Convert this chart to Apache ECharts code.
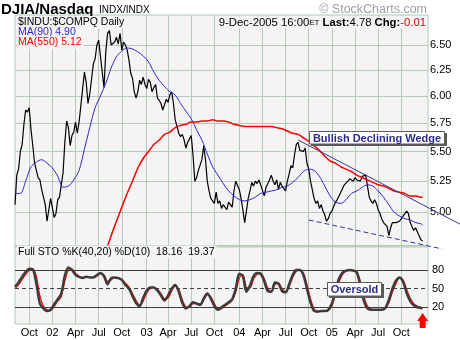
<!DOCTYPE html>
<html><head><meta charset="utf-8">
<script src="https://cdn.jsdelivr.net/npm/echarts@6/dist/echarts.min.js"></script>
<style>html,body{margin:0;padding:0;background:#fff}#c{width:460px;height:340px}</style>
</head><body><div id="c"></div>
<script>
// ---- data (weekly, week index 0 = Mon 2001-08-06) ----
const firstMonday = '2001-08-06';
const weekCount = 233;
const ratio = [
5.06,5.30,5.35,5.50,5.56,5.74,5.87,5.85,5.89,5.69,
5.55,5.40,5.39,5.28,5.26,5.18,5.12,5.06,4.93,5.02,
5.11,5.12,4.96,4.99,5.10,5.12,5.22,5.32,5.58,5.77,
5.71,5.55,5.64,5.67,5.76,5.66,5.76,5.91,6.07,6.23,
6.13,5.93,6.02,6.16,6.31,6.36,6.50,6.55,6.53,6.23,
6.08,6.43,6.62,6.65,6.50,6.50,6.53,6.58,6.51,6.62,
6.45,6.53,6.50,6.45,6.35,6.22,6.17,6.04,5.98,6.04,
6.15,6.11,6.18,6.11,6.07,6.16,6.13,6.04,6.08,6.11,
5.98,5.96,5.93,5.87,5.87,5.97,5.94,6.01,6.04,5.93,
5.78,5.72,5.66,5.63,5.65,5.60,5.53,5.58,5.61,5.64,
5.47,5.25,5.28,5.34,5.35,5.43,5.55,5.43,5.25,5.17,
5.11,5.10,5.07,5.16,5.07,5.09,5.03,5.06,5.07,5.02,
5.08,5.06,5.04,5.17,5.25,5.25,5.18,5.11,5.02,4.92,
5.01,5.11,5.17,5.24,5.21,5.25,5.23,5.26,5.22,5.21,
5.13,5.20,5.21,5.26,5.30,5.25,5.22,5.26,5.18,5.24,
5.21,5.20,5.17,5.25,5.31,5.38,5.36,5.47,5.56,5.58,
5.51,5.51,5.50,5.53,5.40,5.35,5.25,5.18,5.11,5.07,
5.09,5.03,5.06,5.01,4.98,4.93,4.95,4.99,5.01,5.01,
5.08,5.10,5.11,5.16,5.19,5.22,5.23,5.25,5.27,5.26,
5.25,5.28,5.26,5.25,5.25,5.29,5.28,5.30,5.21,5.12,
5.09,5.07,5.10,5.07,5.02,4.99,4.95,4.92,4.92,4.89,
4.82,4.88,4.92,4.92,4.92,4.92,4.93,4.95,4.94,4.99,
5.01,4.99,4.92,4.92,4.86,4.88,4.85,4.85,4.79,4.78];
// MA(90): one reading every 3 weeks from week 0, then the last week
const ma90Step = 3;
const ma90 = [
5.15,5.15,5.25,5.37,5.41,5.43,5.40,5.36,5.29,5.20,
5.21,5.26,5.34,5.52,5.71,5.89,6.00,6.12,6.27,6.38,
6.44,6.47,6.46,6.43,6.39,6.33,6.23,6.15,6.09,6.04,
6.01,5.93,5.86,5.79,5.69,5.60,5.48,5.37,5.30,5.23,
5.17,5.13,5.10,5.09,5.10,5.12,5.15,5.16,5.17,5.18,
5.20,5.21,5.24,5.28,5.33,5.35,5.34,5.29,5.21,5.13,
5.08,5.07,5.10,5.15,5.17,5.20,5.22,5.21,5.17,5.12,
5.06,5.00,4.97,4.95,4.94,4.92,4.91];
const ma90Last = 4.90;
// MA(550): one reading every 3 weeks from week 51, then the last week
const ma550Start = 51;
const ma550 = [
4.70,4.82,4.93,5.04,5.15,5.25,5.36,5.44,5.50,5.56,
5.60,5.65,5.67,5.71,5.73,5.74,5.76,5.76,5.77,5.77,
5.78,5.77,5.77,5.76,5.74,5.73,5.72,5.72,5.72,5.72,
5.72,5.72,5.71,5.70,5.68,5.66,5.65,5.62,5.59,5.55,
5.51,5.46,5.42,5.40,5.37,5.35,5.33,5.30,5.28,5.26,
5.24,5.22,5.21,5.19,5.17,5.16,5.15,5.13,5.13,5.12];
const ma550Last = 5.12;
// Full STO: one reading every 2 weeks from week 0, then the last week
const stoStep = 2;
const stoK = [
53,60,69,77,82,81,58,26,18,14,
16,25,33,42,71,84,80,72,69,67,
69,68,68,72,75,70,57,67,68,67,
64,56,50,38,27,22,35,47,52,52,
47,39,31,39,50,56,45,27,18,22,
28,26,24,34,42,34,22,16,20,24,
28,33,50,74,70,45,55,70,75,74,
62,46,45,60,58,46,44,57,72,80,
80,72,50,28,14,13,14,14,16,26,
47,66,76,79,80,79,76,55,30,18,
16,16,16,16,19,32,50,63,68,61,
43,30,23,20,19];
const stoKLast = 18.16;
const stoD = [
50,56,65,73,79,82,70,38,22,16,
15,21,30,37,62,80,82,75,70,68,
68,68,68,70,74,72,62,64,68,67,
65,59,53,42,31,24,30,43,50,52,
49,42,34,35,46,54,49,32,21,20,
26,26,25,31,40,37,26,18,18,22,
26,31,44,67,73,52,51,65,73,75,
66,51,45,56,59,50,45,53,68,78,
80,75,57,34,18,14,14,14,15,22,
40,60,73,78,80,80,78,62,37,22,
17,16,16,16,18,27,44,58,67,64,
49,35,26,22,20];
const stoDLast = 19.37;
const priceTicks = [5.00,5.25,5.50,5.75,6.00,6.25,6.50];
const priceGrid = [4.75,5.00,5.25,5.50,5.75,6.00,6.25,6.50];
const stoTicks = [20,50,80];
const monthNames = {0:null,3:'Apr',6:'Jul',9:'Oct'};
// trendline anchors [week index, value]
const wedgeUpper = [[159,5.60],[228,5.067]];
const wedgeLower = [[165,4.94],[228,4.755]];

// ---- build ----
const DAY = 864e5;
const d0 = new Date(firstMonday + 'T00:00:00Z');
const dates = [];
for (let k = 0; k < weekCount; k++) dates.push(new Date(d0.getTime() + k * 7 * DAY).toISOString().slice(0, 10));
const labelAt = {};
for (let y = 2001; y <= 2005; y++) for (const m of [0, 3, 6, 9]) {
  let ft = new Date(Date.UTC(y, m, m === 0 ? 2 : 1));
  while (ft.getUTCDay() === 0 || ft.getUTCDay() === 6) ft = new Date(ft.getTime() + DAY);
  const wd = ft.getUTCDay();
  let mon = new Date(ft.getTime() - (wd - 1) * DAY);
  if (wd >= 4) mon = new Date(mon.getTime() + 7 * DAY);
  const idx = Math.round((mon - d0) / (7 * DAY));
  if (idx >= 0 && idx < weekCount) labelAt[idx] = m === 0 ? String(y).slice(2) : monthNames[m];
}
const lastIdx = ratio.length - 1;
function sparse(vals, start, step, lastVal) {
  const arr = new Array(lastIdx + 1).fill(null);
  vals.forEach((v, k) => { arr[start + k * step] = v; });
  arr[lastIdx] = lastVal;
  return arr;
}
const ma90Data = sparse(ma90, 0, ma90Step, ma90Last);
const ma550Data = sparse(ma550, ma550Start, 3, ma550Last);
const stoKData = sparse(stoK, 0, stoStep, stoKLast);
const stoDData = sparse(stoD, 0, stoStep, stoDLast);

const FONT = '"Liberation Sans", Arial, sans-serif';
const gridColor = '#b4cab4';
const panelBg = '#f4f4f4';
const isQ = (i) => labelAt[i] !== undefined;

const chart = echarts.init(document.getElementById('c'), null, {renderer: 'canvas'});
const xBase = (gi, showLabel) => ({
  type: 'category', gridIndex: gi, data: dates, boundaryGap: false,
  axisLine: {show: false}, axisTick: {show: false},
  splitLine: {show: true, interval: isQ, lineStyle: {color: gridColor, width: 1}},
  axisLabel: showLabel ? {show: true, interval: isQ, formatter: (v, i) => labelAt[i] || '',
    color: '#000', fontSize: 11, fontFamily: FONT, margin: 3} : {show: false}
});
chart.setOption({
  animation: false,
  backgroundColor: '#fff',
  grid: [
    {left: 15, right: 32, top: 15, height: 232, show: true, backgroundColor: panelBg, borderColor: gridColor, borderWidth: 1, outerBoundsMode: 'none'},
    {left: 15, right: 32, top: 247, height: 77, show: true, backgroundColor: panelBg, borderColor: gridColor, borderWidth: 1, outerBoundsMode: 'none'}
  ],
  xAxis: [xBase(0, false), xBase(1, true)],
  yAxis: [
    {type: 'log', logBase: 10, gridIndex: 0, position: 'right', min: 4.735, max: 6.813,
      axisLine: {show: false}, axisTick: {show: false, customValues: priceGrid},
      axisLabel: {customValues: priceTicks, formatter: v => Number(v).toFixed(2), color: '#000', fontSize: 11, fontFamily: FONT, margin: 2},
      splitLine: {show: true, lineStyle: {color: gridColor, width: 1}}},
    {type: 'value', gridIndex: 1, position: 'right', min: -6.9, max: 117,
      axisLine: {show: false}, axisTick: {show: false, customValues: stoTicks},
      axisLabel: {customValues: stoTicks, color: '#000', fontSize: 11, fontFamily: FONT, margin: 4},
      splitLine: {show: false}}
  ],
  series: [
    {type: 'line', name: 'ratio', xAxisIndex: 0, yAxisIndex: 0, data: ratio, symbol: 'none',
      lineStyle: {color: '#000', width: 1.2}, z: 3},
    {type: 'line', name: 'MA90', xAxisIndex: 0, yAxisIndex: 0, data: ma90Data, symbol: 'none', connectNulls: true, smooth: 0.3,
      lineStyle: {color: '#3324cc', width: 1}, z: 4},
    {type: 'line', name: 'MA550', xAxisIndex: 0, yAxisIndex: 0, data: ma550Data, symbol: 'none', connectNulls: true, smooth: 0.3,
      lineStyle: {color: '#ff0000', width: 1.5}, z: 5},
    {type: 'line', name: '%D', xAxisIndex: 1, yAxisIndex: 1, data: stoDData, symbol: 'none', connectNulls: true, smooth: 0.3,
      lineStyle: {color: '#ff0000', width: 1.2}, z: 3},
    {type: 'line', name: '%K', xAxisIndex: 1, yAxisIndex: 1, data: stoKData, symbol: 'none', connectNulls: true, smooth: 0.3,
      lineStyle: {color: '#3c3c3c', width: 2.5}, z: 4,
      markLine: {silent: true, symbol: ['none', 'none'], label: {show: false}, animation: false,
        lineStyle: {color: '#3c3c3c', width: 1, type: 'solid'},
        data: [{yAxis: 80}, {yAxis: 20}, {yAxis: 50, lineStyle: {type: [4, 3]}}]}}
  ]
});

// annotations
const px = (p) => chart.convertToPixel({xAxisIndex: 0, yAxisIndex: 0}, p);
function extended(anchor, xEnd) {
  const a = px(anchor[0]), b = px(anchor[1]);
  const k = (b[1] - a[1]) / (b[0] - a[0]);
  return {x1: a[0], y1: a[1], x2: xEnd, y2: a[1] + k * (xEnd - a[0])};
}
const up = extended(wedgeUpper, 460);
const lo = extended(wedgeLower, 442);
const lastX = chart.convertToPixel({xAxisIndex: 1}, lastIdx);
const txt = (x, y, text, o) => Object.assign({type: 'text', z: 50, style: Object.assign({x, y, text, fontFamily: FONT, fontSize: 11, fill: '#000', verticalAlign: 'middle'}, o || {})});
chart.setOption({
  graphic: [
    txt(1, 10, 'DJIA/Nasdaq', {fontSize: 15, fontWeight: 'bold'}),
    txt(99, 10, 'INDX/INDX', {fontSize: 10}),
    txt(427, 10, '\u00a9 StockCharts.com', {fontSize: 12.5, fill: '#a0a0a0', align: 'right'}),
    txt(427, 22.5, '{n|9-Dec-2005 16:00}{s|ET} {b|Last:}{n|4.78} {b|Chg:}{r|-0.01}', {align: 'right', backgroundColor: panelBg, padding: [1, 1, 0, 2],
      rich: {n: {fontSize: 11.3, fontFamily: FONT, fill: '#000'}, s: {fontSize: 8, fontFamily: FONT, fill: '#000'},
        b: {fontSize: 11.3, fontFamily: FONT, fontWeight: 'bold', fill: '#000'}, r: {fontSize: 11.3, fontFamily: FONT, fill: '#e00000'}}}),
    txt(17, 22.5, '$INDU:$COMPQ Daily', {fontSize: 10.5, backgroundColor: panelBg, padding: [1, 2, 1, 1]}),
    txt(17, 32.5, 'MA(90) 4.90', {fontSize: 10.5, fill: '#3324cc', backgroundColor: panelBg, padding: [1, 2, 1, 1]}),
    txt(17, 42.5, 'MA(550) 5.12', {fontSize: 10.5, fill: '#ff0000', backgroundColor: panelBg, padding: [1, 2, 1, 1]}),
    txt(17, 252, 'Full STO %K(40,20) %D(10)  18.16  19.37', {fontSize: 10.5, backgroundColor: panelBg, padding: [1, 2, 1, 1]}),
    {type: 'line', z: 20, shape: up, style: {stroke: '#3a3a96', lineWidth: 1}},
    {type: 'line', z: 20, shape: lo, style: {stroke: '#3434a8', lineWidth: 1, lineDash: [5, 3]}},
    {type: 'rect', z: 30, shape: {x: 311, y: 133, width: 136, height: 13}, style: {fill: '#5a5a5a'}},
    {type: 'rect', z: 31, shape: {x: 309.5, y: 131.5, width: 135, height: 12.5}, style: {fill: '#fff', stroke: '#5a5a5a', lineWidth: 1}},
    txt(377, 138.5, 'Bullish Declining Wedge', {align: 'center', fontWeight: 'bold', fill: '#2b2b8f', fontSize: 11}),
    {type: 'rect', z: 30, shape: {x: 329, y: 284, width: 55, height: 14}, style: {fill: '#5a5a5a'}},
    {type: 'rect', z: 31, shape: {x: 327.5, y: 282.5, width: 54, height: 13.5}, style: {fill: '#fff', stroke: '#5a5a5a', lineWidth: 1}},
    txt(354.5, 289.5, 'Oversold', {align: 'center', fontWeight: 'bold', fill: '#2b2b8f', fontSize: 11}),
    {type: 'polygon', z: 40, shape: {points: [[lastX - 5.5, 321], [lastX, 313], [lastX + 5.5, 321], [lastX + 3, 321], [lastX + 3, 328], [lastX - 3, 328], [lastX - 3, 321]]},
      style: {fill: '#ff0000'}}
  ]
});
</script></body></html>
